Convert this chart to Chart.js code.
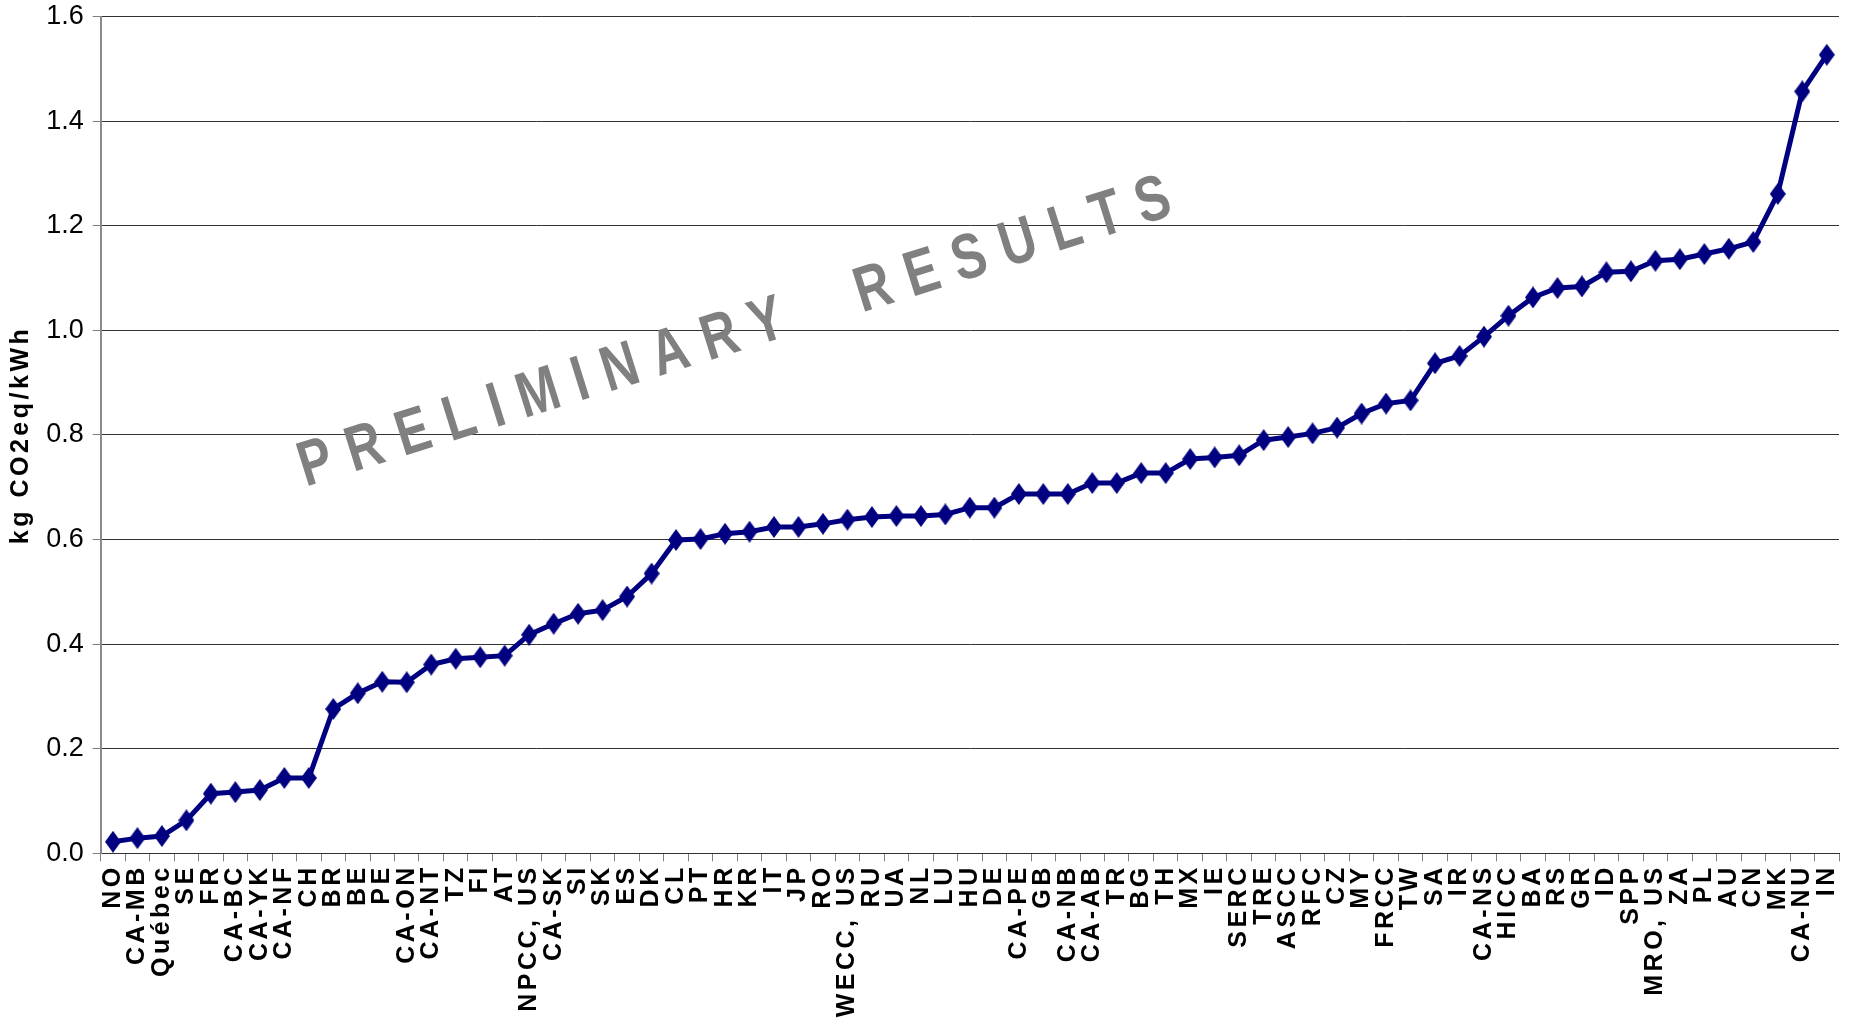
<!DOCTYPE html>
<html>
<head>
<meta charset="utf-8">
<title>kg CO2eq/kWh</title>
<script src="https://cdn.jsdelivr.net/npm/chart.js@4.4.1/dist/chart.umd.min.js"></script>
<style>
  html, body { margin: 0; padding: 0; background: #fff; overflow: hidden; }
  #wrap { width: 1855px; height: 1018px; position: relative; }
  canvas { display: block; }
</style>
</head>
<body>
<div id="wrap"><canvas id="chart" width="1855" height="1018"></canvas></div>
<script>
// Electricity grid mixes, sorted by emission factor
const regions = [
  'NO', 'CA-MB', 'Québec', 'SE', 'FR', 'CA-BC', 'CA-YK', 'CA-NF', 'CH', 'BR',
  'BE', 'PE', 'CA-ON', 'CA-NT', 'TZ', 'FI', 'AT', 'NPCC, US', 'CA-SK', 'SI',
  'SK', 'ES', 'DK', 'CL', 'PT', 'HR', 'KR', 'IT', 'JP', 'RO',
  'WECC, US', 'RU', 'UA', 'NL', 'LU', 'HU', 'DE', 'CA-PE', 'GB', 'CA-NB',
  'CA-AB', 'TR', 'BG', 'TH', 'MX', 'IE', 'SERC', 'TRE', 'ASCC', 'RFC',
  'CZ', 'MY', 'FRCC', 'TW', 'SA', 'IR', 'CA-NS', 'HICC', 'BA', 'RS',
  'GR', 'ID', 'SPP', 'MRO, US', 'ZA', 'PL', 'AU', 'CN', 'MK', 'CA-NU', 'IN'
];

// kg CO2-eq per kWh delivered
const emissionFactor = [
  0.022, 0.029, 0.033, 0.063, 0.114, 0.117, 0.121, 0.144, 0.144, 0.276,
  0.306, 0.328, 0.327, 0.361, 0.372, 0.375, 0.378, 0.418, 0.439, 0.458,
  0.465, 0.491, 0.535, 0.599, 0.601, 0.611, 0.615, 0.624, 0.624, 0.630,
  0.638, 0.643, 0.645, 0.645, 0.648, 0.661, 0.661, 0.687, 0.687, 0.687,
  0.708, 0.708, 0.727, 0.727, 0.754, 0.757, 0.761, 0.790, 0.796, 0.803,
  0.814, 0.841, 0.860, 0.866, 0.937, 0.951, 0.988, 1.028, 1.063, 1.081,
  1.084, 1.111, 1.113, 1.133, 1.136, 1.146, 1.156, 1.169, 1.261, 1.457, 1.527
];

// value axis
const yMin = 0;
const yMax = 1.6;
const yStep = 0.2;

const yTitle = 'kg CO2eq/kWh';
const stampText = 'PRELIMINARY  RESULTS';

const NAVY = '#000080';

// tall diamond marker
const diamond = (() => {
  const c = document.createElement('canvas');
  c.width = 16; c.height = 22;
  const g = c.getContext('2d');
  g.fillStyle = NAVY;
  g.beginPath();
  g.moveTo(8, 0); g.lineTo(16, 11); g.lineTo(8, 22); g.lineTo(0, 11);
  g.closePath();
  g.fill();
  return c;
})();

// bold texts are drawn with a little extra tracking; value labels without
const tracking = {
  id: 'tracking',
  beforeInit(chart) { chart.ctx.letterSpacing = '3.5px'; },
  beforeUpdate(chart) { chart.ctx.letterSpacing = '3.5px'; },
  beforeDraw(chart) { chart.ctx.letterSpacing = '3.5px'; },
  afterDatasetsDraw(chart) { chart.ctx.letterSpacing = '0px'; }
};

// diagonal "preliminary" stamp behind the series
const stamp = {
  id: 'stamp',
  beforeDatasetsDraw(chart) {
    const { ctx, chartArea: a } = chart;
    const w = a.right - a.left, h = a.bottom - a.top;
    ctx.save();
    ctx.letterSpacing = '21px';
    ctx.font = 'bold 64px "Liberation Sans", Arial, sans-serif';
    ctx.fillStyle = '#808080';
    ctx.textAlign = 'left';
    ctx.textBaseline = 'alphabetic';
    ctx.translate(a.left + 0.118 * w, a.top + 0.562 * h);
    ctx.rotate(-17.4 * Math.PI / 180);
    ctx.scale(0.78, 1);
    ctx.fillText(stampText, 0, 0);
    ctx.restore();
  }
};

new Chart(document.getElementById('chart'), {
  type: 'line',
  data: {
    labels: regions,
    datasets: [{
      data: emissionFactor,
      borderColor: NAVY,
      backgroundColor: NAVY,
      borderWidth: 5,
      tension: 0,
      fill: false,
      pointStyle: diamond,
      pointRadius: 11,
      pointHoverRadius: 11
    }]
  },
  options: {
    responsive: false,
    devicePixelRatio: 1,
    animation: false,
    events: [],
    layout: { padding: { top: 16.6, right: 10, left: 0, bottom: 0 } },
    plugins: {
      legend: { display: false },
      tooltip: { enabled: false },
      title: { display: false }
    },
    scales: {
      x: {
        type: 'category',
        offset: true,
        grid: {
          offset: true,
          drawOnChartArea: false,
          drawTicks: true,
          tickLength: 8,
          tickColor: '#808080',
          tickWidth: 1
        },
        border: { display: true, color: '#333333', width: 1 },
        ticks: {
          autoSkip: false,
          minRotation: 90,
          maxRotation: 90,
          padding: 3,
          color: '#000',
          font: { family: '"Liberation Sans", Arial, sans-serif', size: 25, weight: 'bold' }
        },
        afterFit(scale) {
          scale.height = 164.7;
          scale.paddingLeft = 0;
          scale.paddingRight = 0;
        }
      },
      y: {
        min: yMin,
        max: yMax,
        ticks: {
          stepSize: yStep,
          z: 1,
          padding: 9,
          color: '#000',
          font: { family: '"Liberation Sans", Arial, sans-serif', size: 27, weight: 'normal' },
          callback: (v) => Number(v).toFixed(1)
        },
        grid: {
          color: '#333333',
          lineWidth: 1,
          drawTicks: true,
          tickLength: 8,
          tickColor: '#808080'
        },
        border: { display: true, color: '#8a8a8a', width: 2 },
        title: {
          display: true,
          text: yTitle,
          color: '#000',
          padding: { top: 6, bottom: 0 },
          font: { family: '"Liberation Sans", Arial, sans-serif', size: 25, weight: 'bold' }
        },
        afterFit(scale) {
          scale.width = 100.7;
          scale.paddingTop = 0;
          scale.paddingBottom = 0;
        }
      }
    }
  },
  plugins: [tracking, stamp]
});
</script>
</body>
</html>
